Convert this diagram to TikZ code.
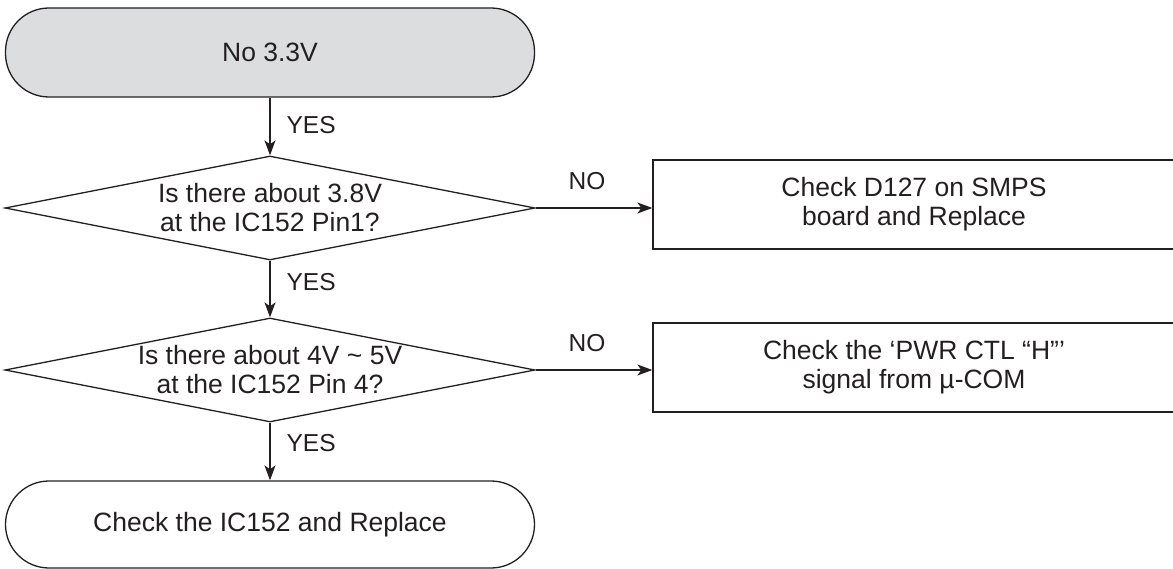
\documentclass[tikz,border=0pt]{standalone}
\usepackage{fontspec}
\setmainfont{Liberation Sans}
\usetikzlibrary{shapes.geometric,arrows.meta}
\definecolor{ink}{HTML}{231F20}
\definecolor{termgray}{HTML}{DCDDDF}
\tikzset{
  base/.style={draw=ink, line width=1.3pt, text=ink, font=\fontsize{26.5}{29}\selectfont, align=center, inner sep=0pt},
  term/.style={base, rectangle, rounded corners=43.5pt, minimum width=529pt, minimum height=89pt},
  dec/.style={base, diamond, minimum width=530pt, minimum height=104pt, aspect=5.1},
  proc/.style={base, rectangle, minimum width=522pt, minimum height=89pt},
  lbl/.style={text=ink, font=\fontsize{24.5}{26}\selectfont, inner sep=0pt},
  flow/.style={draw=ink, line width=1.3pt, -{Stealth[length=15pt,width=11pt,inset=4pt]}}
}
\begin{document}
\begin{tikzpicture}[x=1pt,y=-1pt]
\useasboundingbox (0,0) rectangle (1173,569);
\node[term, fill=termgray] (t1) at (270,52.5) {No 3.3V};
\node[dec] (d1) at (270,208) {Is there about 3.8V\\at the IC152 Pin1?};
\node[proc] (b1) at (914,204.5) {Check D127 on SMPS\\board and Replace};
\node[dec] (d2) at (270,370) {Is there about 4V \textasciitilde{} 5V\\at the IC152 Pin 4?};
\node[proc] (b2) at (914,367.5) {Check the ‘PWR CTL “H”’\\signal from µ-COM};
\node[term, minimum height=87pt] (t2) at (270,524.5) {Check the IC152 and Replace};
\draw[flow] (t1.south) -- node[lbl, anchor=west, pos=0.47, xshift=16pt] {YES} (d1.north);
\draw[flow] (d1.south) -- node[lbl, anchor=west, pos=0.38, xshift=16pt] {YES} (d2.north);
\draw[flow] (d2.south) -- node[lbl, anchor=west, pos=0.36, xshift=16pt] {YES} (t2.north);
\draw[flow] (d1.east) -- node[lbl, above=18pt, pos=0.44] {NO} (d1.east -| b1.west);
\draw[flow] (d2.east) -- node[lbl, above=18pt, pos=0.44] {NO} (d2.east -| b2.west);
\end{tikzpicture}
\end{document}
